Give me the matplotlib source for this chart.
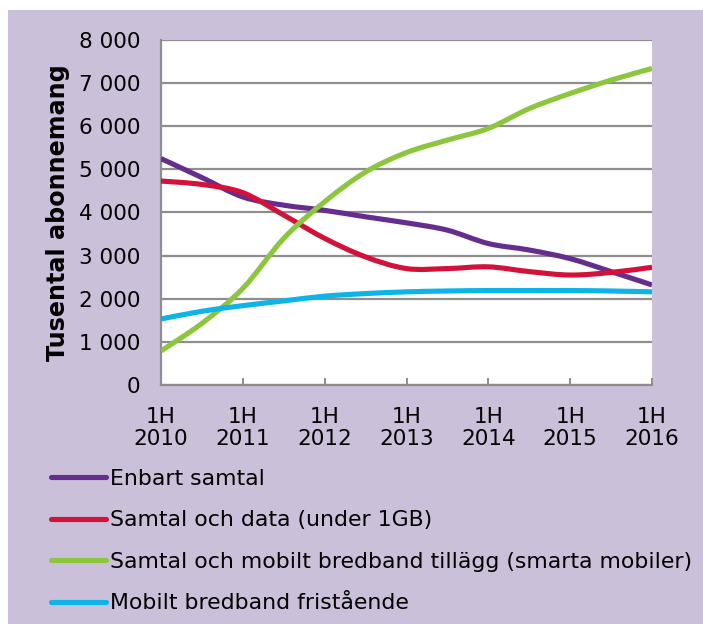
import numpy as np
import matplotlib
matplotlib.use("Agg")
import matplotlib.pyplot as plt
from matplotlib.path import Path
import matplotlib.patches as patches
from matplotlib.lines import Line2D

# half-year points, 1H 2010 .. 1H 2016
x_vals = [2010 + 0.5 * i for i in range(13)]
tick_years = [2010, 2011, 2012, 2013, 2014, 2015, 2016]
tick_labels = ["1H\n%d" % y for y in tick_years]

enbart_samtal = [5250, 4810, 4360, 4170, 4050, 3900, 3760, 3590, 3280, 3130, 2930, 2630, 2320]
samtal_data = [4730, 4650, 4460, 3940, 3400, 2970, 2700, 2700, 2740, 2630, 2550, 2610, 2730]
smarta_mobiler = [790, 1430, 2240, 3400, 4250, 4940, 5390, 5680, 5950, 6410, 6760, 7070, 7340]
mbb_fristaende = [1530, 1710, 1840, 1950, 2060, 2120, 2160, 2180, 2190, 2190, 2190, 2180, 2160]

series_names = ["Enbart samtal", "Samtal och data (under 1GB)",
                "Samtal och mobilt bredband tillägg (smarta mobiler)",
                "Mobilt bredband fristående"]
series_vals = [enbart_samtal, samtal_data, smarta_mobiler, mbb_fristaende]
colors = ["#652D8E", "#D3123A", "#8CC63E", "#0CB4E8"]

BG = "#CBC0DA"
GRID = "#8E8E8E"
W, H = 703, 624
FS = 15.5


def smooth_path(xs, ys):
    # excel-like smoothed line: cubic bezier through the points
    pts = np.column_stack([xs, ys]).astype(float)
    n = len(pts)
    verts = [pts[0]]
    codes = [Path.MOVETO]
    for i in range(n - 1):
        p0 = pts[i - 1] if i > 0 else pts[i]
        p1 = pts[i]
        p2 = pts[i + 1]
        p3 = pts[i + 2] if i + 2 < n else pts[i + 1]
        c1 = p1 + (p2 - p0) / 6.0
        c2 = p2 - (p3 - p1) / 6.0
        verts += [c1, c2, p2]
        codes += [Path.CURVE4] * 3
    return Path(verts, codes)


fig = plt.figure(figsize=(W / 100, H / 100), dpi=100)
fig.patch.set_facecolor("white")
fig.patches.append(patches.Rectangle((8 / W, 0), 1 - 8 / W, 1 - 10 / H,
                                     transform=fig.transFigure,
                                     facecolor=BG, edgecolor="none", zorder=-10))

left, right, top, bottom = 161, 652, 40, 385
ax = fig.add_axes([left / W, 1 - bottom / H, (right - left) / W, (bottom - top) / H])
ax.set_facecolor("white")

for name, vals, c in zip(series_names, series_vals, colors):
    p = patches.PathPatch(smooth_path(x_vals, vals), facecolor="none",
                          edgecolor=c, lw=3.7, capstyle="butt", zorder=3)
    ax.add_patch(p)

ax.set_xlim(2010, 2016)
ax.set_ylim(0, 8000)
ax.set_yticks(range(0, 8001, 1000))
ax.set_yticklabels(["0"] + ["%d 000" % (v // 1000) for v in range(1000, 8001, 1000)])
ax.set_xticks(tick_years)
ax.set_xticklabels(tick_labels, linespacing=1.1)
ax.yaxis.grid(True, color=GRID, lw=1.6)
ax.set_axisbelow(True)

for s in ["top", "right"]:
    ax.spines[s].set_visible(False)
for s in ["left", "bottom"]:
    ax.spines[s].set_color(GRID)
    ax.spines[s].set_linewidth(1.6)

ax.tick_params(axis="y", length=0, labelsize=FS, pad=15, colors="black")
ax.tick_params(axis="x", direction="in", length=5, width=1.4, color=GRID,
               labelsize=FS, pad=16, labelcolor="black")

ax.set_ylabel("Tusental abonnemang", fontsize=17.2, fontweight="bold")
ax.yaxis.set_label_coords(-0.185, 0.5)

handles = [Line2D([0], [0], color=c, lw=3.7, solid_capstyle="round") for c in colors]
fig.legend(handles, series_names, loc="upper left",
           bbox_to_anchor=(42 / W, 1 - 460 / H), frameon=False,
           fontsize=15.8, handlelength=2.5, handletextpad=0.2,
           labelspacing=0.98, borderaxespad=0)

fig.savefig("out.png", dpi=100, facecolor=fig.get_facecolor())
